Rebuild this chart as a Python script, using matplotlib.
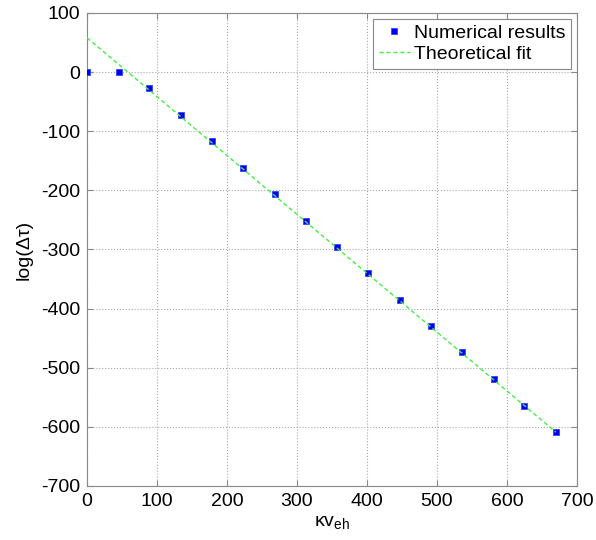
import matplotlib
matplotlib.use('Agg')
import matplotlib.pyplot as plt
import numpy as np

plt.rcParams['font.family'] = ['Liberation Sans', 'DejaVu Sans']
plt.rcParams['mathtext.fontset'] = 'custom'
plt.rcParams['mathtext.rm'] = 'Liberation Sans'
plt.rcParams['mathtext.it'] = 'Liberation Sans'
plt.rcParams['axes.unicode_minus'] = False

# numerical results
kv = [0, 45, 89, 134, 179, 223, 268, 313, 357, 402, 447, 491, 536, 581, 625, 670]
logdt = [0, 0, -27, -72, -117, -162, -206, -251, -296, -340, -385, -430,
         -474, -519, -564, -609]

# theoretical fit (straight line)
fit_x = [0, 670]
fit_y = [58, -609]

fig = plt.figure(figsize=(5.96, 5.40), dpi=100)
ax = fig.add_axes([0.146, 0.100, 0.822, 0.876])

ax.plot(kv, logdt, 's', color='#0000ee', markersize=5,
        markeredgecolor='#3344ff', markeredgewidth=0.6, label='Numerical results',
        zorder=3)
ax.plot(fit_x, fit_y, '--', color='#44ee44', linewidth=1.0, dashes=(3, 2),
        label='Theoretical fit', zorder=4)

ax.set_xlim(0, 700)
ax.set_ylim(-700, 100)
ax.set_xticks(np.arange(0, 701, 100))
ax.set_yticks(np.arange(-700, 101, 100))
ax.grid(True, linestyle=':', color='#aaaaaa', linewidth=0.8)

for s in ax.spines.values():
    s.set_color('#888888')
ax.tick_params(direction='in', length=4, color='#888888', labelsize=14,
               top=True, right=True, pad=5)

ax.set_xlabel('κv$_{\\mathregular{eh}}$', fontsize=14, labelpad=3)
ax.set_ylabel('log(Δτ)', fontsize=14, labelpad=6)

leg = ax.legend(loc='upper right', fontsize=14, fancybox=False, framealpha=1,
                edgecolor='#888888', handlelength=1.6, handletextpad=0.2,
                borderpad=0.3, labelspacing=0.15, borderaxespad=0.3)
leg.get_frame().set_linewidth(0.8)

fig.savefig('out.png', dpi=100)
